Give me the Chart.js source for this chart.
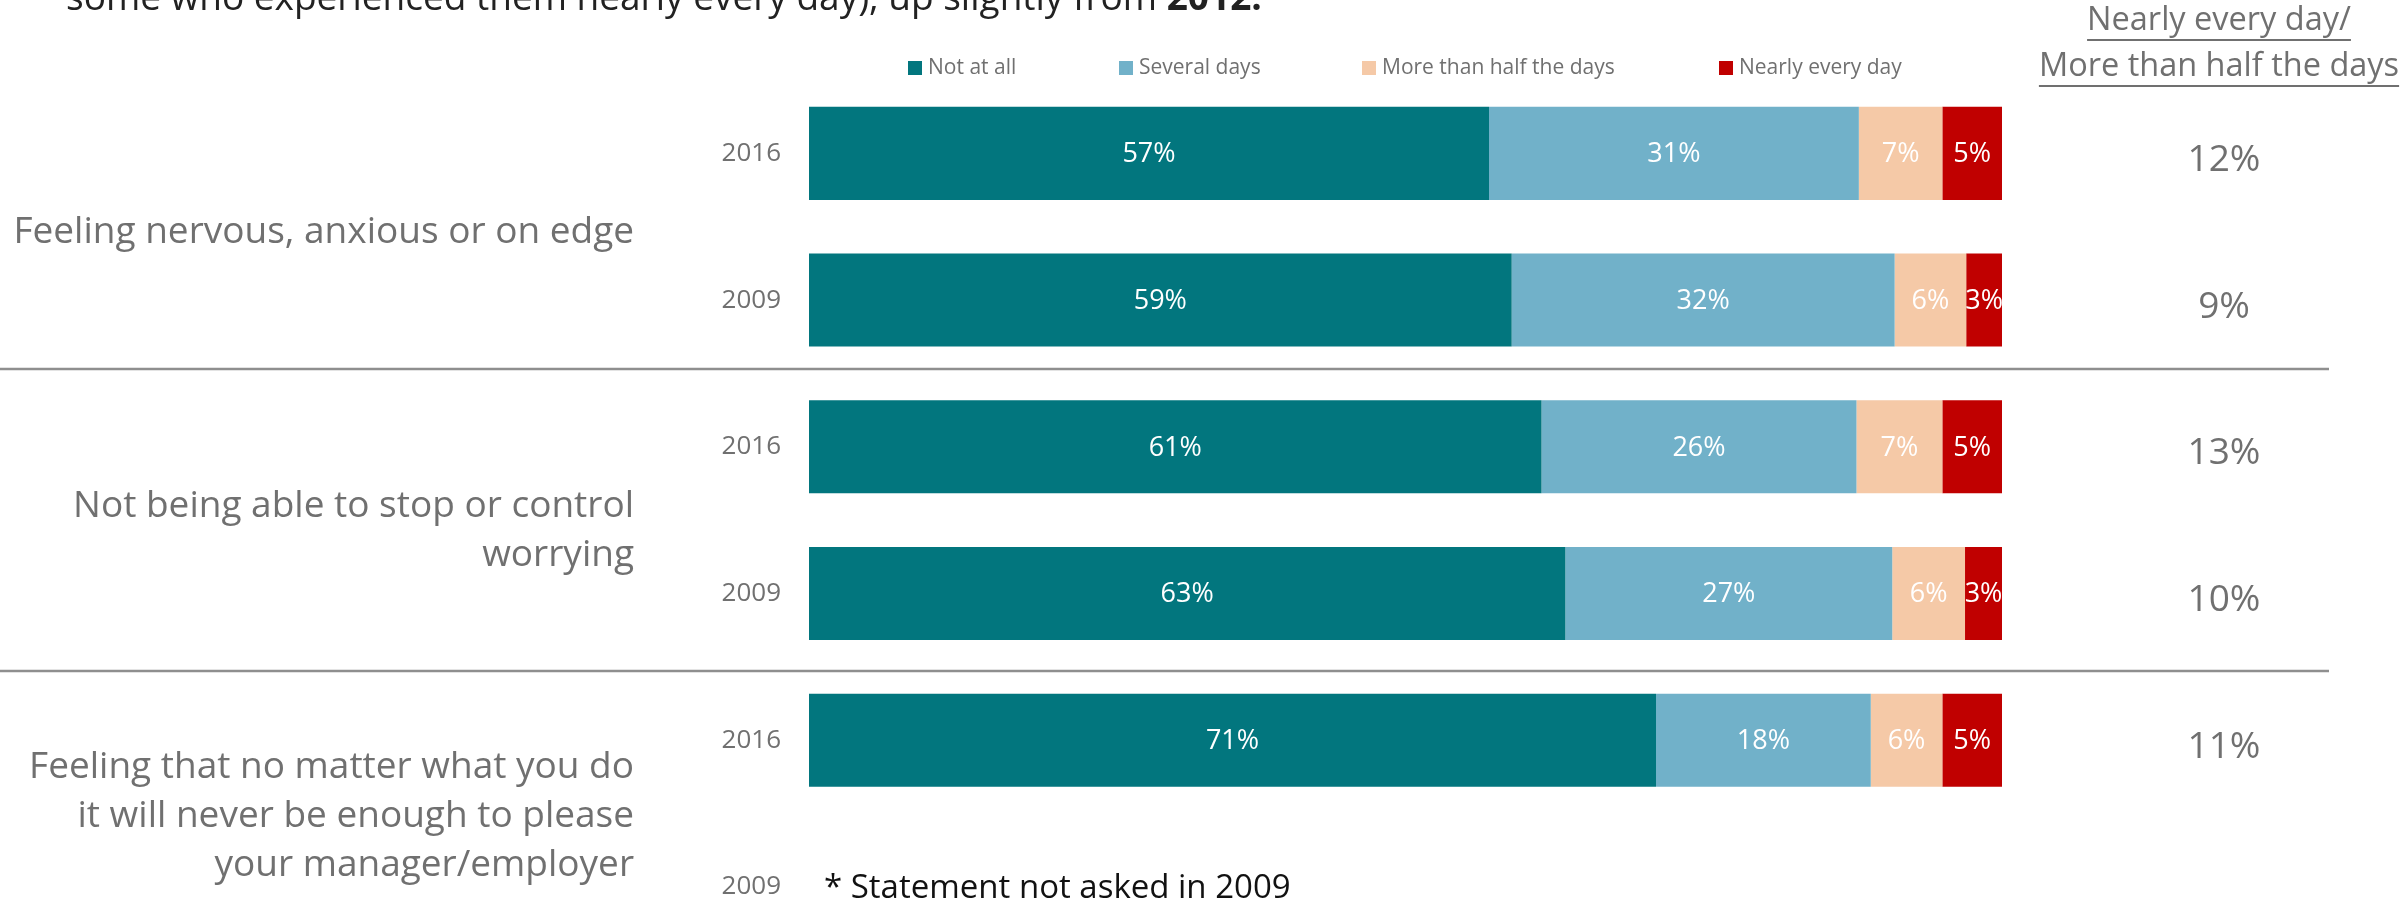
<!DOCTYPE html>
<html>
<head>
<meta charset="utf-8">
<script src="https://cdn.jsdelivr.net/npm/chart.js@4.4.1/dist/chart.umd.min.js"></script>
<style>
  html, body { margin: 0; padding: 0; background: #ffffff; overflow: hidden; width: 2407px; height: 907px; }
  #wrap { position: absolute; left: 0; top: 0; width: 2407px; height: 1004px; }
</style>
</head>
<body>
<div id="wrap"><canvas id="c" width="2407" height="1004"></canvas></div>
<script>
// ---------- data ----------
const years = ['2016', '2009', '2016', '2009', '2016', '2009'];
const statements = [
  ['Feeling nervous, anxious or on edge'],
  ['Not being able to stop or control', 'worrying'],
  ['Feeling that no matter what you do', 'it will never be enough to please', 'your manager/employer']
];
const seriesNames = ['Not at all', 'Several days', 'More than half the days', 'Nearly every day'];
const notAtAll     = [57, 58.9, 61.4, 63.4, 71, null];
const severalDays  = [31, 32.1, 26.4, 27.4, 18, null];
const moreThanHalf = [7, 6, 7.2, 6.1, 6, null];
const nearlyEvery  = [5, 3, 5, 3.1, 5, null];
const combined     = [12, 9, 13, 10, 11, null];
const combinedHeader = ['Nearly every day/', 'More than half the days'];
const titleText = 'some who experienced them nearly every day), up slightly from ';
const titleBold = '2012.';
const footnote = '* Statement not asked in 2009';

// ---------- style ----------
const FONT = "'Open Sans', 'Noto Sans', sans-serif";
const GRAY = '#707070';
const colors = ['#02767E', '#71B1C9', '#F5C9A7', '#C00000'];

const seriesData = [notAtAll, severalDays, moreThanHalf, nearlyEvery];

const overlay = {
  id: 'overlay',
  afterDatasetsDraw(chart) {
    const ctx = chart.ctx;
    const y = chart.scales.y;
    // bar value labels
    ctx.save();
    ctx.fillStyle = '#ffffff';
    ctx.font = '27px ' + FONT;
    ctx.textAlign = 'center';
    ctx.textBaseline = 'middle';
    chart.data.datasets.forEach((ds, di) => {
      const meta = chart.getDatasetMeta(di);
      meta.data.forEach((el, i) => {
        const v = ds.data[i];
        if (v == null) return;
        const cx = (el.x + el.base) / 2;
        ctx.fillText(Math.round(v) + '%', cx, el.y + 1);
      });
    });
    ctx.restore();

    // separators between statement groups
    ctx.save();
    ctx.strokeStyle = '#8f8f8f';
    ctx.lineWidth = 2.5;
    [[1.5, -4], [3.5, 4.5]].forEach(([idx, off]) => {
      const py = Math.round(y.getPixelForValue(idx) + off);
      ctx.beginPath();
      ctx.moveTo(0, py);
      ctx.lineTo(2329, py);
      ctx.stroke();
    });
    ctx.restore();

    // statement labels
    ctx.save();
    ctx.fillStyle = GRAY;
    ctx.font = '37px ' + FONT;
    ctx.textAlign = 'right';
    ctx.textBaseline = 'middle';
    const lh = 49;
    const groupOff = [6, 11, 3];
    statements.forEach((lines, g) => {
      const mid = (y.getPixelForValue(g * 2) + y.getPixelForValue(g * 2 + 1)) / 2 + groupOff[g];
      const start = mid - (lines.length - 1) * lh / 2;
      lines.forEach((t, k) => ctx.fillText(t, 634, start + k * lh));
    });
    ctx.restore();

    // combined values column
    ctx.save();
    ctx.fillStyle = GRAY;
    ctx.font = '37px ' + FONT;
    ctx.textAlign = 'center';
    ctx.textBaseline = 'middle';
    combined.forEach((v, i) => {
      if (v == null) return;
      ctx.fillText(v + '%', 2224, y.getPixelForValue(i) + 7);
    });
    // header underlined
    ctx.font = '32.5px ' + FONT;
    ctx.textBaseline = 'alphabetic';
    ctx.strokeStyle = GRAY;
    ctx.lineWidth = 2;
    const hb = [30, 76];
    combinedHeader.forEach((t, k) => {
      ctx.fillText(t, 2219, hb[k]);
      const w = ctx.measureText(t).width;
      ctx.beginPath();
      ctx.moveTo(2219 - w / 2, hb[k] + 10);
      ctx.lineTo(2219 + w / 2, hb[k] + 10);
      ctx.stroke();
    });
    ctx.restore();

    // legend
    ctx.save();
    ctx.font = '21px ' + FONT;
    ctx.textBaseline = 'middle';
    ctx.textAlign = 'left';
    const lx = [908, 1119, 1362, 1719];
    seriesNames.forEach((n, i) => {
      ctx.fillStyle = colors[i];
      ctx.fillRect(lx[i], 61, 14, 14);
      ctx.fillStyle = GRAY;
      ctx.fillText(n, lx[i] + 20, 68);
    });
    ctx.restore();

    // title remnant (cut at top)
    ctx.save();
    ctx.fillStyle = '#222222';
    ctx.textBaseline = 'alphabetic';
    ctx.textAlign = 'left';
    ctx.font = '37px ' + FONT;
    ctx.fillText(titleText, 66, 10);
    const tw = ctx.measureText(titleText).width;
    ctx.font = 'bold 37px ' + FONT;
    ctx.fillText(titleBold, 66 + tw, 10);
    ctx.restore();

    // footnote
    ctx.save();
    ctx.fillStyle = '#111111';
    ctx.font = '33px ' + FONT;
    ctx.textAlign = 'left';
    ctx.textBaseline = 'middle';
    ctx.fillText(footnote, 824, y.getPixelForValue(5) + 2);
    ctx.restore();
  }
};

new Chart(document.getElementById('c'), {
  type: 'bar',
  data: {
    labels: years,
    datasets: seriesData.map((d, i) => ({
      label: seriesNames[i],
      data: d,
      backgroundColor: colors[i],
      borderWidth: 0,
      barPercentage: 0.634,
      categoryPercentage: 1.0
    }))
  },
  options: {
    indexAxis: 'y',
    responsive: false,
    animation: false,
    devicePixelRatio: 1,
    layout: { padding: { left: 0, right: 405, top: 80, bottom: 20 } },
    scales: {
      x: { stacked: true, min: 0, max: 100, display: false },
      y: {
        stacked: true,
        grid: { display: false, drawTicks: false },
        border: { display: false },
        ticks: { color: GRAY, font: { family: FONT, size: 26 }, padding: 28 },
        afterFit(s) { s.width = 809; }
      }
    },
    plugins: { legend: { display: false }, tooltip: { enabled: false }, title: { display: false } }
  },
  plugins: [overlay]
});
</script>
</body>
</html>
